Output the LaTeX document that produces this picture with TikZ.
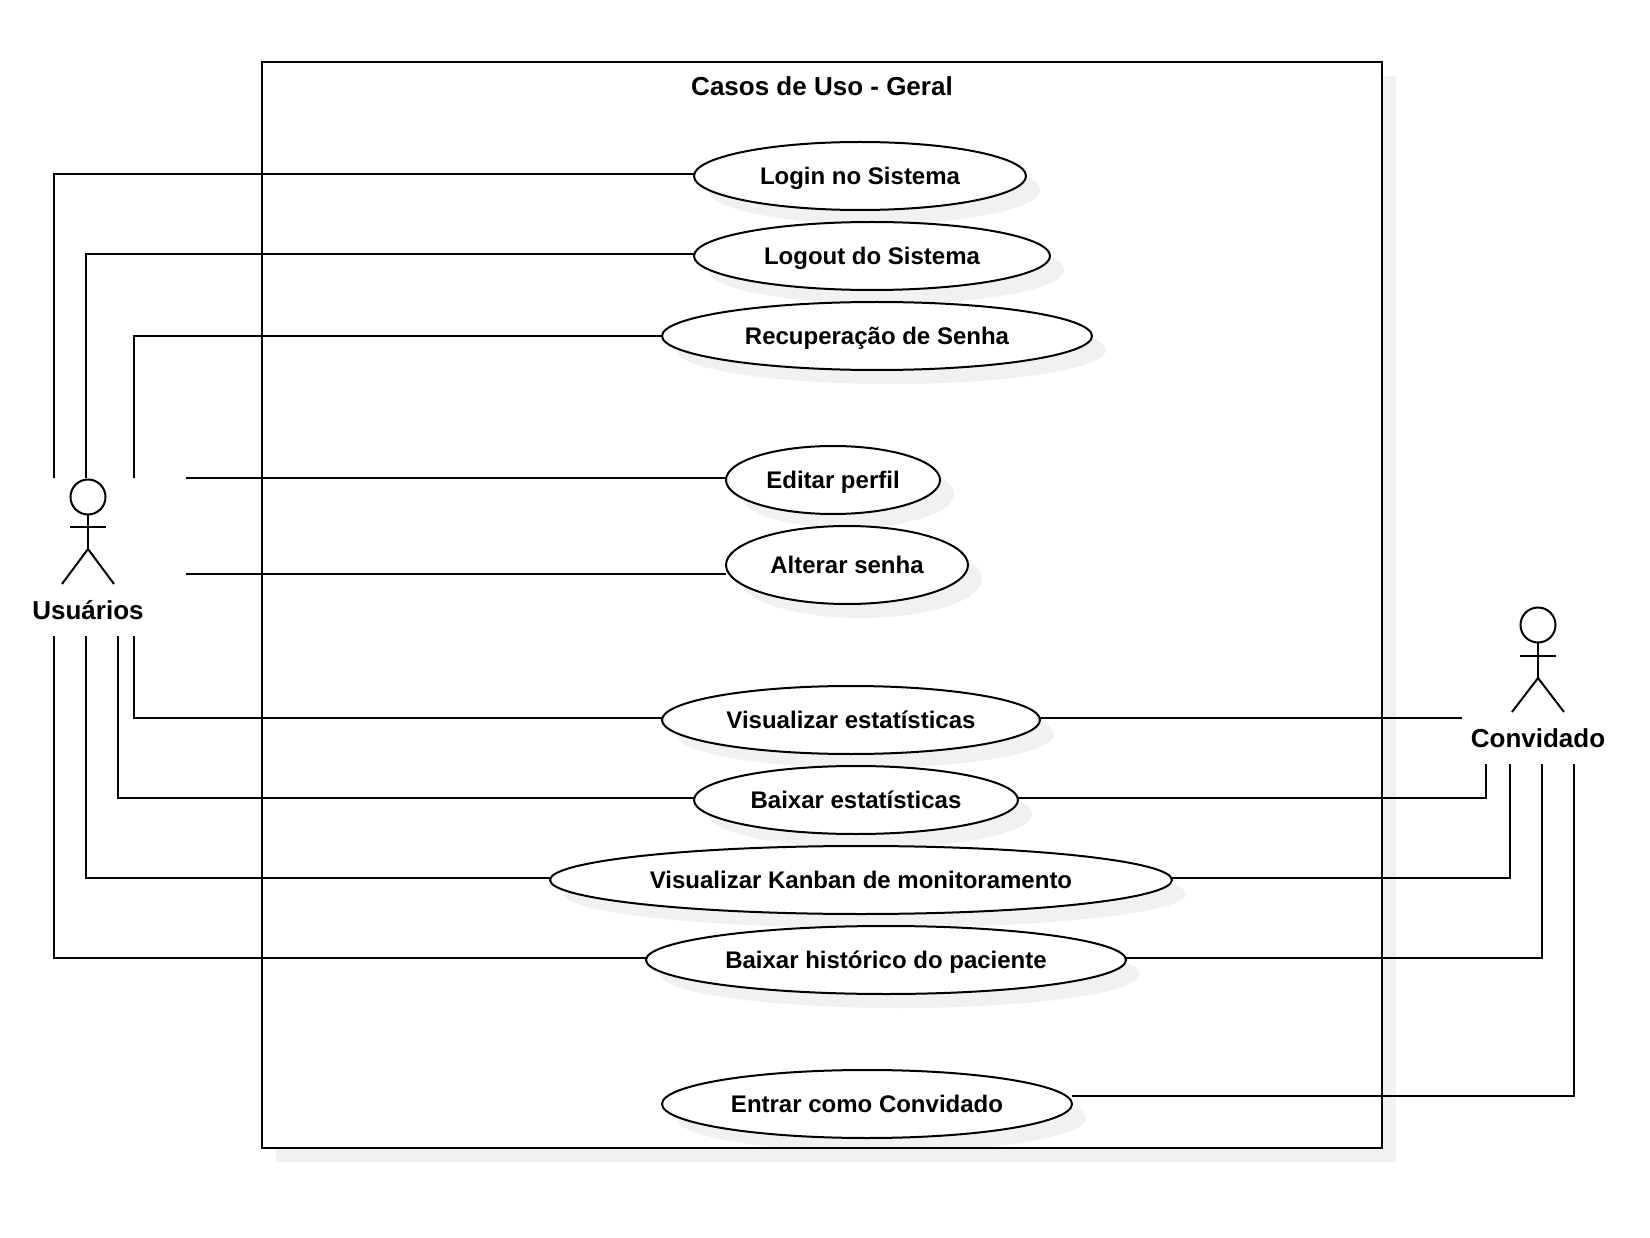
\documentclass[tikz,border=0pt]{standalone}
\usepackage{fontspec}
\setmainfont{Liberation Sans}
\usetikzlibrary{shapes.geometric,shadows,calc}
\definecolor{shadowgray}{HTML}{F1F1F1}
\newcommand{\uctext}[1]{\makebox[0pt][c]{#1}}
\tikzset{
  ln/.style={line width=2pt,draw=black,line cap=butt},
  txt/.style={font=\fontsize{26}{30}\selectfont\bfseries,text=black,inner sep=0pt,outer sep=0pt,text height=19pt,text depth=6pt},
  usecase/.style={ellipse,ln,fill=white,inner sep=0pt,outer sep=0pt,font=\fontsize{24}{28}\selectfont\bfseries,text=black,text height=22pt,text depth=5pt,
    general shadow={shadow xshift=14pt,shadow yshift=-14pt,fill=shadowgray}},
  ucsize/.style n args={2}{minimum width=#1pt,minimum height=#2pt},
  head/.style={circle,ln,fill=white,minimum size=35pt,inner sep=0pt,outer sep=0pt},
  conn/.style={ln}
}
\begin{document}
\begin{tikzpicture}[x=1pt,y=-1pt]
\useasboundingbox (0,0) rectangle (1650,1238);
\fill[white] (0,0) rectangle (1650,1238);
% system frame: shadow and fill first, its border after the use cases
\fill[shadowgray] (276,76) rectangle (1396,1161.5);
\node[rectangle,fill=white,minimum width=1120pt,minimum height=1085.5pt,inner sep=0pt,outer sep=0pt] (frame) at (822,604.75) {};
\node[txt] (title) at (822,89.5) {Casos de Uso - Geral};
% use cases
\node[usecase,ucsize={332}{68}] (login) at (860,176) {\uctext{Login no Sistema}};
\node[usecase,ucsize={356}{68}] (logout) at (872,256) {\uctext{Logout do Sistema}};
\node[usecase,ucsize={430}{68}] (recup) at (877,336) {\uctext{Recuperação de Senha}};
\node[usecase,ucsize={214}{68}] (editar) at (833,480) {\uctext{Editar perfil}};
\node[usecase,ucsize={242}{78}] (alterar) at (847,565) {\uctext{Alterar senha}};
\node[usecase,ucsize={378}{68}] (visest) at (851,720) {\uctext{Visualizar estatísticas}};
\node[usecase,ucsize={324}{68}] (baiest) at (856,800) {\uctext{Baixar estatísticas}};
\node[usecase,ucsize={622}{68}] (kanban) at (861,880) {\uctext{Visualizar Kanban de monitoramento}};
\node[usecase,ucsize={480}{68}] (hist) at (886,960) {\uctext{Baixar histórico do paciente}};
\node[usecase,ucsize={410}{68}] (conv) at (867,1104) {\uctext{Entrar como Convidado}};
\draw[ln] (frame.north west) rectangle (frame.south east);
% actor Usuarios
\node[head] (uhead) at (88,497) {};
\coordinate (uhip) at (88,549);
\coordinate (uarml) at (70,527);
\coordinate (uarmr) at (106,527);
\coordinate (ulegl) at (62,584);
\coordinate (ulegr) at (114,584);
\draw[ln] (uhead.south) -- (uhip);
\draw[ln] (uarml) -- (uarmr);
\draw[ln] (ulegl) -- (uhip) -- (ulegr);
\node[txt] (ulabel) at (88,613) {Usuários};
% actor Convidado
\node[head] (chead) at (1538,625) {};
\coordinate (chip) at (1538,678);
\coordinate (carml) at (1520,656);
\coordinate (carmr) at (1556,656);
\coordinate (clegl) at (1512,712);
\coordinate (clegr) at (1564,712);
\draw[ln] (chead.south) -- (chip);
\draw[ln] (carml) -- (carmr);
\draw[ln] (clegl) -- (chip) -- (clegr);
\node[txt] (clabel) at (1538,741) {Convidado};
% free ends at the actor Usuarios
\coordinate (ut1) at (54,478);
\coordinate (ut2) at (86,478);
\coordinate (ut3) at (134,478);
\coordinate (ur1) at (186,478);
\coordinate (ur2) at (186,574);
\coordinate (ub1) at (134,636);
\coordinate (ub2) at (118,636);
\coordinate (ub3) at (86,636);
\coordinate (ub4) at (54,636);
% free ends at the actor Convidado
\coordinate (cl1) at (1462,718);
\coordinate (cb1) at (1486,764);
\coordinate (cb2) at (1510,764);
\coordinate (cb3) at (1542,764);
\coordinate (cb4) at (1574,764);
% connectors
\draw[conn] (ut1) |- ([yshift=2pt]login.west);
\draw[conn] (ut2) |- ([yshift=2pt]logout.west);
\draw[conn] (ut3) |- (recup.west);
\draw[conn] (ur1) -- (ur1 -| editar.west);
\draw[conn] (ur2) -- (ur2 -| alterar.west);
\draw[conn] (ub1) |- ([yshift=2pt]visest.west);
\draw[conn] (ub2) |- ([yshift=2pt]baiest.west);
\draw[conn] (ub3) |- ([yshift=2pt]kanban.west);
\draw[conn] (ub4) |- ([yshift=2pt]hist.west);
\draw[conn] ([yshift=2pt]visest.east) -- (cl1);
\draw[conn] ([yshift=2pt]baiest.east) -| (cb1);
\draw[conn] ([yshift=2pt]kanban.east) -| (cb2);
\draw[conn] ([yshift=2pt]hist.east) -| (cb3);
\draw[conn] ([yshift=8pt]conv.east) -| (cb4);
\end{tikzpicture}
\end{document}
